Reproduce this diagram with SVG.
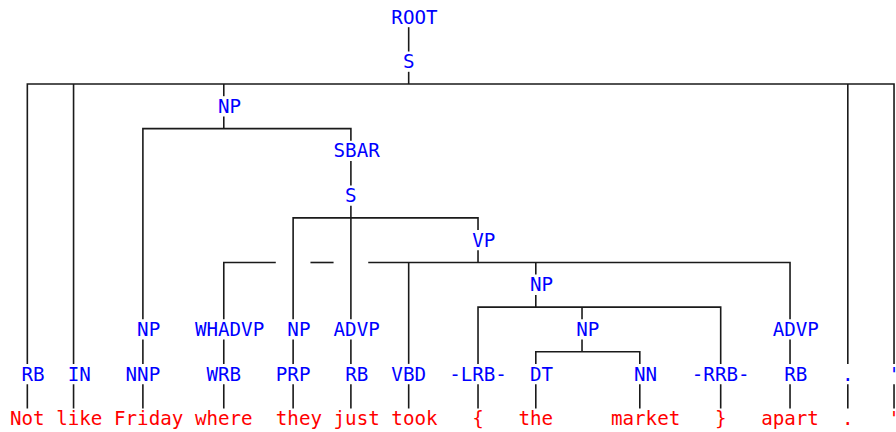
<svg xmlns="http://www.w3.org/2000/svg" width="896" height="432" viewBox="0 0 896 432">
<style>
text{font-family:"DejaVu Sans Mono","Liberation Mono",monospace;font-size:19.2px;text-anchor:middle}
.l{fill:#0000ff}
.w{fill:#ff0000}
#edges path{fill:none;stroke:#1a1a1a;stroke-width:1.6}
</style>
<rect width="896" height="432" fill="#ffffff"/>
<g id="edges">
<path d="M408.68 27.2V51.5"/>
<path d="M408.68 71.8V84"/>
<path d="M27.33 363.9V84H894.03V363.9"/>
<path d="M73.56 84V363.9"/>
<path d="M847.81 84V363.9"/>
<path d="M223.78 84V96.2"/>
<path d="M223.78 116.5V128.6"/>
<path d="M142.89 319.3V128.6H350.9V140.8"/>
<path d="M350.9 161.1V185.4"/>
<path d="M350.9 205.7V319.3"/>
<path d="M293.12 319.3V217.9H478.02V230"/>
<path d="M478.02 250.3V262.5"/>
<path d="M223.78 319.3V262.5H275.79"/>
<path d="M310.46 262.5H333.57"/>
<path d="M368.24 262.5H790.03V319.3"/>
<path d="M408.68 262.5V363.9"/>
<path d="M535.8 262.5V274.6"/>
<path d="M535.8 294.9V307.1"/>
<path d="M478.02 363.9V307.1H720.69V363.9"/>
<path d="M582.02 307.1V319.3"/>
<path d="M582.02 339.6V351.7"/>
<path d="M535.8 363.9V351.7H639.8V363.9"/>
<path d="M142.89 339.6V363.9M223.78 339.6V363.9M293.12 339.6V363.9M350.9 339.6V363.9M790.03 339.6V363.9"/>
<path d="M27.33 384.2V408.5M73.56 384.2V408.5M142.89 384.2V408.5M223.78 384.2V408.5M293.12 384.2V408.5M350.9 384.2V408.5M408.68 384.2V408.5M478.02 384.2V408.5M535.8 384.2V408.5M639.8 384.2V408.5M720.69 384.2V408.5M790.03 384.2V408.5M847.81 384.2V408.5M894.03 384.2V408.5"/>
</g>
<g id="n-root"><text class="l" x="414.46" y="23.5">ROOT</text></g>
<g id="n-s1"><text class="l" x="408.68" y="68.1">S</text></g>
<g id="n-np1"><text class="l" x="229.56" y="112.7">NP</text></g>
<g id="n-sbar"><text class="l" x="356.68" y="157.4">SBAR</text></g>
<g id="n-s2"><text class="l" x="350.9" y="202">S</text></g>
<g id="n-vp"><text class="l" x="483.8" y="246.6">VP</text></g>
<g id="n-np2"><text class="l" x="541.58" y="291.2">NP</text></g>
<g id="n-np3"><text class="l" x="148.67" y="335.8">NP</text></g>
<g id="n-whadvp"><text class="l" x="229.56" y="335.8">WHADVP</text></g>
<g id="n-np4"><text class="l" x="298.9" y="335.8">NP</text></g>
<g id="n-advp1"><text class="l" x="356.68" y="335.8">ADVP</text></g>
<g id="n-np5"><text class="l" x="587.8" y="335.8">NP</text></g>
<g id="n-advp2"><text class="l" x="795.81" y="335.8">ADVP</text></g>
<g id="t-rb1"><text class="l" x="33.11" y="380.5">RB</text></g>
<g id="t-in"><text class="l" x="79.34" y="380.5">IN</text></g>
<g id="t-nnp"><text class="l" x="142.89" y="380.5">NNP</text></g>
<g id="t-wrb"><text class="l" x="223.79" y="380.5">WRB</text></g>
<g id="t-prp"><text class="l" x="293.12" y="380.5">PRP</text></g>
<g id="t-rb2"><text class="l" x="356.68" y="380.5">RB</text></g>
<g id="t-vbd"><text class="l" x="408.68" y="380.5">VBD</text></g>
<g id="t-lrb"><text class="l" x="478.02" y="380.5">-LRB-</text></g>
<g id="t-dt"><text class="l" x="541.58" y="380.5">DT</text></g>
<g id="t-nn"><text class="l" x="645.58" y="380.5">NN</text></g>
<g id="t-rrb"><text class="l" x="720.69" y="380.5">-RRB-</text></g>
<g id="t-rb3"><text class="l" x="795.81" y="380.5">RB</text></g>
<g id="t-dot"><text class="l" x="847.81" y="380.5">.</text></g>
<g id="t-quote"><text class="l" x="894.03" y="380.5">'</text></g>
<g id="w-not"><text class="w" x="27.33" y="425.1">Not</text></g>
<g id="w-like"><text class="w" x="79.34" y="425.1">like</text></g>
<g id="w-friday"><text class="w" x="148.67" y="425.1">Friday</text></g>
<g id="w-where"><text class="w" x="223.79" y="425.1">where</text></g>
<g id="w-they"><text class="w" x="298.9" y="425.1">they</text></g>
<g id="w-just"><text class="w" x="356.68" y="425.1">just</text></g>
<g id="w-took"><text class="w" x="414.46" y="425.1">took</text></g>
<g id="w-lbrace"><text class="w" x="478.02" y="425.1">{</text></g>
<g id="w-the"><text class="w" x="535.8" y="425.1">the</text></g>
<g id="w-market"><text class="w" x="645.58" y="425.1">market</text></g>
<g id="w-rbrace"><text class="w" x="720.69" y="425.1">}</text></g>
<g id="w-apart"><text class="w" x="790.03" y="425.1">apart</text></g>
<g id="w-dot"><text class="w" x="847.81" y="425.1">.</text></g>
<g id="w-quote"><text class="w" x="894.03" y="425.1">'</text></g>
</svg>
